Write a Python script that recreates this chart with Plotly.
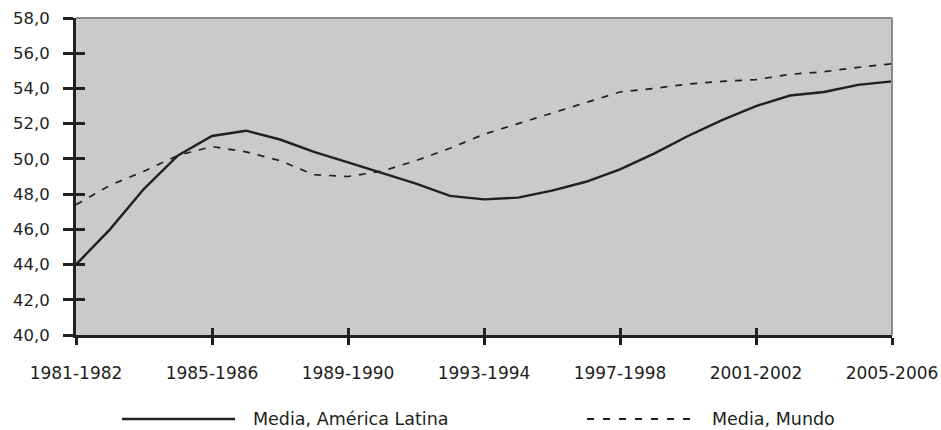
import plotly.graph_objects as go

periods = [f"{y}-{y+1}" for y in range(1981, 2006)]
latam = [44.0, 46.0, 48.3, 50.2, 51.3, 51.6, 51.1, 50.4, 49.8, 49.2, 48.6, 47.9, 47.7, 47.8,
         48.2, 48.7, 49.4, 50.3, 51.3, 52.2, 53.0, 53.6, 53.8, 54.2, 54.4]
mundo = [47.4, 48.5, 49.3, 50.2, 50.7, 50.4, 49.9, 49.1, 49.0, 49.3, 49.9, 50.6, 51.4, 52.0,
         52.6, 53.2, 53.8, 54.0, 54.25, 54.4, 54.5, 54.8, 54.95, 55.2, 55.4]
series_names = ["Media, América Latina", "Media, Mundo"]
tick_labels = periods[::4]
y_ticks = [40, 42, 44, 46, 48, 50, 52, 54, 56, 58]

dark = "#231f20"
font_family = "DejaVu Sans, Verdana, sans-serif"
solid_style = dict(color=dark, width=2.4)
dash_style = dict(color=dark, width=1.7, dash="7px,8px")

fig = go.Figure()
fig.add_trace(go.Scatter(x=periods, y=latam, mode="lines", name=series_names[0],
                         line=solid_style, showlegend=False))
fig.add_trace(go.Scatter(x=periods, y=mundo, mode="lines", name=series_names[1],
                         line=dash_style, showlegend=False))
# invisible trace on overlay axes for the inner half of the crossing tick marks
fig.add_trace(go.Scatter(x=periods, y=latam, mode="lines", xaxis="x2", yaxis="y2",
                         line=dict(color="rgba(0,0,0,0)"), showlegend=False, hoverinfo="skip"))

# legend drawn below the plot (long line samples like the original)
leg_y = -0.265
legend_shapes = [
    dict(type="line", xref="paper", yref="paper", x0=0.0564, x1=0.1949, y0=leg_y, y1=leg_y,
         line=dict(color=dark, width=2.4)),
    dict(type="line", xref="paper", yref="paper", x0=0.6262, x1=0.7561, y0=leg_y, y1=leg_y,
         line=dict(color=dark, width=2, dash="7px,9px")),
]
legend_notes = [
    dict(text=series_names[0], xref="paper", yref="paper", x=0.2150, y=leg_y,
         xanchor="left", yanchor="middle", showarrow=False,
         font=dict(family=font_family, size=17.5, color=dark)),
    dict(text=series_names[1], xref="paper", yref="paper", x=0.7775, y=leg_y,
         xanchor="left", yanchor="middle", showarrow=False,
         font=dict(family=font_family, size=17.5, color=dark)),
]

fig.update_layout(
    width=941, height=430,
    margin=dict(l=76, r=49, t=18, b=95),
    paper_bgcolor="white",
    plot_bgcolor="#c9cacc",
    separators=",.",
    font=dict(family=font_family, color=dark, size=16),
    showlegend=False,
    xaxis=dict(type="category", range=[0, 24], tickmode="array", tickvals=tick_labels,
               ticktext=tick_labels, ticks="outside", ticklen=7, tickwidth=3, tickcolor=dark,
               showline=True, linecolor=dark, linewidth=3, showgrid=False, zeroline=False,
               automargin=False, ticklabelstandoff=14,
               tickfont=dict(family=font_family, size=17)),
    yaxis=dict(range=[40, 58], tickmode="array", tickvals=y_ticks, tickformat=".1f",
               ticks="outside", ticklen=10, tickwidth=3, tickcolor=dark,
               showline=True, linecolor=dark, linewidth=3, showgrid=False, zeroline=False,
               automargin=False, ticklabelstandoff=10,
               tickfont=dict(family=font_family, size=16.5)),
    xaxis2=dict(type="category", overlaying="x", range=[0, 24], tickmode="array",
                tickvals=tick_labels, ticks="inside", ticklen=7, tickwidth=3, tickcolor=dark,
                showticklabels=False, showline=False, showgrid=False, zeroline=False, side="bottom",
                anchor="y2", automargin=False),
    yaxis2=dict(overlaying="y", range=[40, 58], tickmode="array", tickvals=y_ticks,
                ticks="inside", ticklen=9, tickwidth=3, tickcolor=dark, showticklabels=False,
                showline=False, showgrid=False, zeroline=False, side="left", anchor="x2",
                automargin=False),
    shapes=[
        dict(type="line", xref="paper", yref="paper", x0=0, x1=1, y0=1, y1=1,
             line=dict(color="#8a8a8a", width=2), layer="above"),
        dict(type="line", xref="paper", yref="paper", x0=1, x1=1, y0=0, y1=1,
             line=dict(color="#8a8a8a", width=2), layer="above"),
    ] + legend_shapes,
    annotations=legend_notes,
)
fig.write_html("out.html", post_script="document.body.style.margin='0';",
               config={"displayModeBar": False})
